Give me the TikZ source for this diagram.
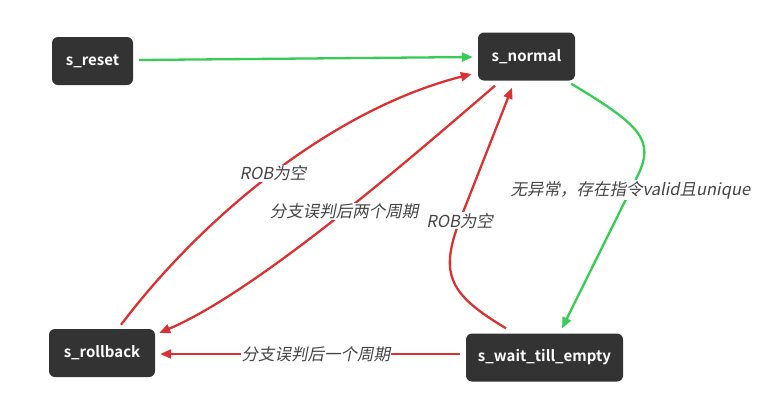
\documentclass[tikz,border=0pt]{standalone}
\usepackage{fontspec}
\usetikzlibrary{arrows.meta,calc}
\newfontfamily\cjk[BoldFont={Noto Sans CJK SC Bold}]{Noto Sans CJK SC}
\newfontfamily\cjkit[FakeSlant=0.2]{Noto Sans CJK SC}
\definecolor{nodefill}{HTML}{333333}
\definecolor{edgered}{HTML}{DA3232}
\definecolor{edgegreen}{HTML}{36CC55}
\definecolor{labeltext}{HTML}{444444}
\tikzset{
  state/.style={fill=nodefill, rounded corners=6pt, text=white, minimum height=48pt,
    inner sep=0pt, font=\cjk\bfseries\fontsize{15}{18}\selectfont},
  redge/.style={draw=edgered, line width=2.3pt, -{Triangle[length=11pt,width=9pt]}},
  gedge/.style={draw=edgegreen, line width=2.3pt, -{Triangle[length=11pt,width=9pt]}},
  elabel/.style={fill=white, inner sep=1pt, text=labeltext, font=\cjkit\fontsize{16.5}{19}\selectfont}
}
\begin{document}
\begin{tikzpicture}[x=1pt,y=-1pt]
\useasboundingbox[fill=white] (0,0) rectangle (783,408);
\node[state, minimum width=81pt] (reset) at (92.5,61) {s\_reset};
\node[state, minimum width=97pt] (normal) at (526.5,56.5) {s\_normal};
\node[state, minimum width=106pt] (rollback) at (102,353) {s\_rollback};
\node[state, minimum width=157pt] (wait) at (544.5,357.5) {s\_wait\_till\_empty};

% s_reset -> s_normal
\draw[gedge] ($(reset.east)+(6,-1)$) -- ($(normal.west)+(-5,0.5)$);
% s_rollback -> s_normal
\draw[redge] ($(rollback.north)+(19,-4)$) .. controls (200,220) and (330,110) .. ($(normal.west)+(-6,17.5)$)
  node[elabel, pos=0.5] {ROB为空};
% s_normal -> s_rollback
\draw[redge] ($(normal.south)+(-31.5,5)$) .. controls (420,150) and (260,290) .. ($(rollback.east)+(4,-20)$)
  node[elabel, pos=0.48] {分支误判后两个周期};
% s_wait -> s_normal
\draw[redge] ($(wait.north)+(-38.5,-5)$) .. controls (450,295) and (440,275) .. (458,225)
  -- node[elabel, pos=0.03] {ROB为空} ($(normal.south)+(-14.5,7)$);
% s_normal -> s_wait
\draw[gedge] ($(normal.south east)+(-4,3)$) .. controls (640,125) and (655,140) .. (638,175)
  -- node[elabel, pos=0.1] {无异常，存在指令valid且unique} ($(wait.north)+(17.5,-5)$);
% s_wait -> s_rollback
\draw[redge] ($(wait.west)+(-6,-3.5)$) -- node[elabel, pos=0.48] {分支误判后一个周期} ($(rollback.east)+(5,1)$);
\end{tikzpicture}
\end{document}
